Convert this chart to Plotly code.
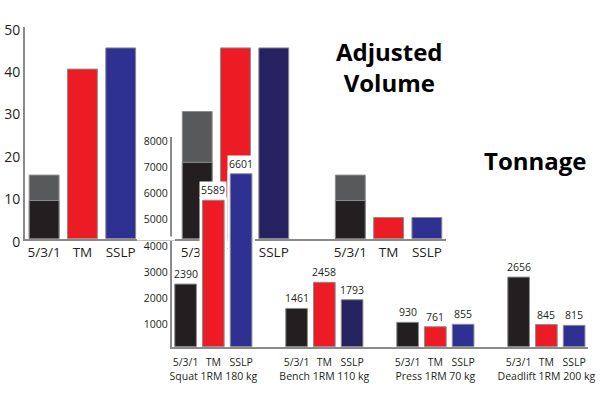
import plotly.graph_objects as go

# ---------------- data ----------------
programs = ["5/3/1", "TM", "SSLP"]

# Adjusted Volume (background chart), three groups
av_main_531 = [9, 18, 9]        # 5/3/1 main work (black)
av_total_531 = [15, 30, 15]     # 5/3/1 incl. assistance (grey, total)
av_tm = [40, 45, 5]
av_sslp = [45, 45, 5]
av_sslp_colors = ["#2e3192", "#262262", "#2e3192"]

# Tonnage (foreground chart)
lifts = ["Squat 1RM 180 kg", "Bench 1RM 110 kg", "Press 1RM 70 kg", "Deadlift 1RM 200 kg"]
ton_531 = [2390, 1461, 930, 2656]
ton_tm = [5589, 2458, 761, 845]
ton_sslp = [6601, 1793, 855, 815]
ton_sslp_colors = ["#2e3192", "#262262", "#2e3192", "#2e3192"]
ton_ticks = [1000, 2000, 3000, 4000, 5000, 6000, 7000, 8000]

BLACK = "#231f20"
GREY = "#58595b"
RED = "#ed1c24"
EDGE = "#8c8c8c"
AXIS = "#8a8a8a"
FONT = "Open Sans"
W = 0.78

fig = go.Figure()

# ---------- background: Adjusted Volume ----------
ng = len(av_tm)
av_x = [[4 * g + i for g in range(ng)] for i in range(3)]
fig.add_trace(go.Bar(x=av_x[0], y=av_total_531, width=W, marker=dict(color=GREY, line=dict(color=EDGE, width=1)), xaxis="x", yaxis="y"))
fig.add_trace(go.Bar(x=av_x[0], y=av_main_531, width=W, marker=dict(color=BLACK, line=dict(color=EDGE, width=1)), xaxis="x", yaxis="y"))
fig.add_trace(go.Bar(x=av_x[1], y=av_tm, width=W, marker=dict(color=RED, line=dict(color=EDGE, width=1)), xaxis="x", yaxis="y"))
fig.add_trace(go.Bar(x=av_x[2], y=av_sslp, width=W, marker=dict(color=av_sslp_colors, line=dict(color=EDGE, width=1)), xaxis="x", yaxis="y"))

av_tickvals = [4 * g + i for g in range(ng) for i in range(3)]
av_ticktext = [programs[i] for g in range(ng) for i in range(3)]

# ---------- foreground: Tonnage ----------
nl = len(lifts)
t_x = [[4 * g + i for g in range(nl)] for i in range(3)]
all_x = t_x[0] + t_x[1] + t_x[2]
all_y = ton_531 + ton_tm + ton_sslp
# white halo under the tonnage bars
fig.add_trace(go.Bar(x=all_x, y=all_y, width=W, marker=dict(color="white", line=dict(color="white", width=6)), xaxis="x2", yaxis="y2"))
fig.add_trace(go.Bar(x=t_x[0], y=ton_531, width=W, marker=dict(color=BLACK, line=dict(color=EDGE, width=1)), xaxis="x2", yaxis="y2"))
fig.add_trace(go.Bar(x=t_x[1], y=ton_tm, width=W, marker=dict(color=RED, line=dict(color=EDGE, width=1)), xaxis="x2", yaxis="y2"))
fig.add_trace(go.Bar(x=t_x[2], y=ton_sslp, width=W, marker=dict(color=ton_sslp_colors, line=dict(color=EDGE, width=1)), xaxis="x2", yaxis="y2"))

t_tickvals = [4 * g + i for g in range(nl) for i in range(3)]
t_ticktext = []
for g in range(nl):
    for i in range(3):
        t_ticktext.append(programs[i] + ("<br>" + lifts[g] if i == 1 else ""))

annotations = []
for xs, ys in zip(t_x, [ton_531, ton_tm, ton_sslp]):
    for xv, yv in zip(xs, ys):
        annotations.append(dict(x=xv, y=yv, xref="x2", yref="y2", text=str(yv), showarrow=False,
                                yanchor="bottom", yshift=1, bgcolor="white", borderpad=1,
                                font=dict(family=FONT, size=10.5, color=BLACK)))

annotations.append(dict(x=389 / 600, y=1 - 67 / 400, xref="paper", yref="paper", text="<b>Adjusted<br>Volume</b>",
                        showarrow=False, xanchor="center", yanchor="middle",
                        font=dict(family=FONT, size=24, color="black")))
annotations.append(dict(x=535 / 600, y=1 - 160 / 400, xref="paper", yref="paper", text="<b>Tonnage</b>",
                        showarrow=False, xanchor="center", yanchor="middle",
                        font=dict(family=FONT, size=24, color="black")))

common = dict(automargin=False, ticks="", showgrid=False, zeroline=False, showline=True, linecolor=AXIS)

fig.update_layout(
    width=600, height=400,
    margin=dict(l=0, r=0, t=0, b=0),
    paper_bgcolor="white", plot_bgcolor="rgba(0,0,0,0)",
    showlegend=False, barmode="overlay",
    font=dict(family=FONT, color=BLACK),
    annotations=annotations,
    shapes=[dict(type="rect", xref="paper", yref="paper", x0=137 / 600, x1=175 / 600,
                 y0=1 - 240.6 / 400, y1=1 - 236.5 / 400, fillcolor="white", line=dict(width=0), layer="above")],
    xaxis=dict(domain=[25 / 600, 446 / 600], range=[-0.5, 10.5], anchor="y", tickangle=0,
               tickvals=av_tickvals, ticktext=av_ticktext, linewidth=2,
               tickfont=dict(size=13.5, color=BLACK), **common),
    yaxis=dict(domain=[1 - 238.7 / 400, 1 - 26.7 / 400], range=[0, 50], anchor="x", dtick=10,
               linewidth=2, tickfont=dict(size=14, color=BLACK), ticklabelshift=3, **common),
    xaxis2=dict(domain=[171.7 / 600, 588 / 600], range=[-0.5, 14.5], anchor="y2", tickangle=0,
                tickvals=t_tickvals, ticktext=t_ticktext, linewidth=1.5, ticklabelstandoff=5,
                tickfont=dict(size=10.5, color=BLACK), **common),
    yaxis2=dict(domain=[1 - 346.7 / 400, 1 - 137.1 / 400], range=[0, 8000], anchor="x2",
                tickvals=ton_ticks, linewidth=1.5,
                tickfont=dict(size=10.5, color=BLACK), ticklabelshift=4, **common),
)

fig.write_html("out.html")
